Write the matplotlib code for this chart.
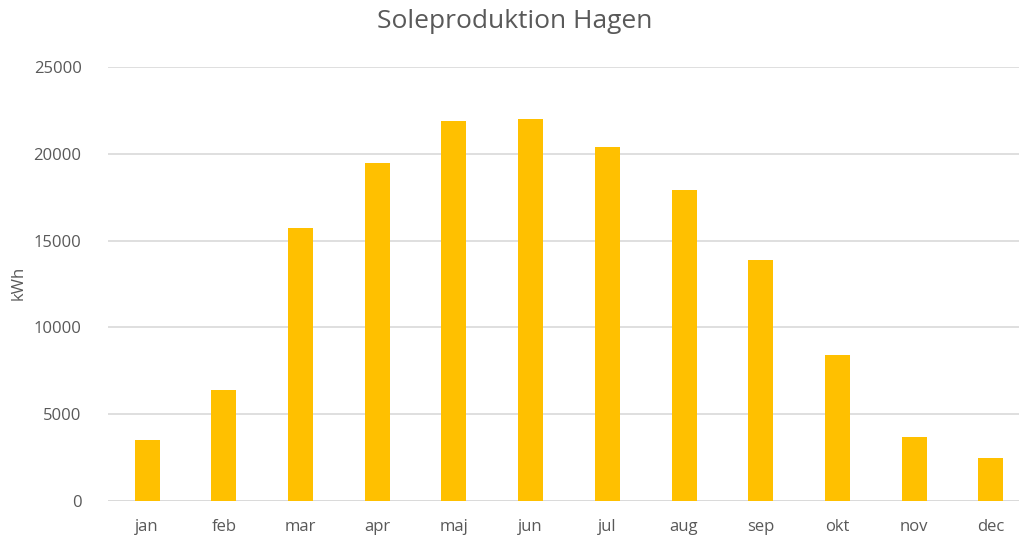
import matplotlib
matplotlib.use("Agg")
import matplotlib.pyplot as plt
import numpy as np

months = ["jan", "feb", "mar", "apr", "maj", "jun", "jul", "aug", "sep", "okt", "nov", "dec"]
production_kwh = [3500, 6400, 15750, 19500, 21900, 22000, 20400, 17950, 13900, 8420, 3690, 2445]
y_ticks = [0, 5000, 10000, 15000, 20000, 25000]

W, H = 1020, 535
fig = plt.figure(figsize=(W / 100, H / 100), dpi=100)
left, right = 108 / W, 1.0
bottom, top = (H - 500.7) / H, (H - 67.3) / H
ax = fig.add_axes([left, bottom, right - left, top - bottom])

text_color = "#595959"
font = "Open Sans"

x = np.arange(len(months))
ax.bar(x, production_kwh, width=0.326, color="#FFC000", zorder=3)

ax.set_xlim(-0.51, 11.38)
ax.set_ylim(0, 25000)
ax.set_yticks(y_ticks)
ax.set_yticklabels([str(v) for v in y_ticks], fontsize=12, color=text_color, family=font)
ax.set_xticks(x)
ax.set_xticklabels(months, fontsize=12, color=text_color, family=font)
ax.tick_params(axis="both", length=0)
ax.tick_params(axis="y", pad=19)
ax.tick_params(axis="x", pad=13.5)
ax.grid(axis="y", color="#d9d9d9", linewidth=1.2, zorder=0)
for s in ax.spines.values():
    s.set_visible(False)
ax.axhline(0, color="#d9d9d9", linewidth=1.2, zorder=2)

fig.text(19 / W, 1 - 283 / H, "kWh", rotation=90, ha="center", va="center",
         fontsize=12, color=text_color, family=font)
fig.text(515 / W, 1 - 22 / H, "Soleproduktion Hagen", ha="center", va="center",
         fontsize=19, color=text_color, family=font)

fig.savefig("out.png", dpi=100)
